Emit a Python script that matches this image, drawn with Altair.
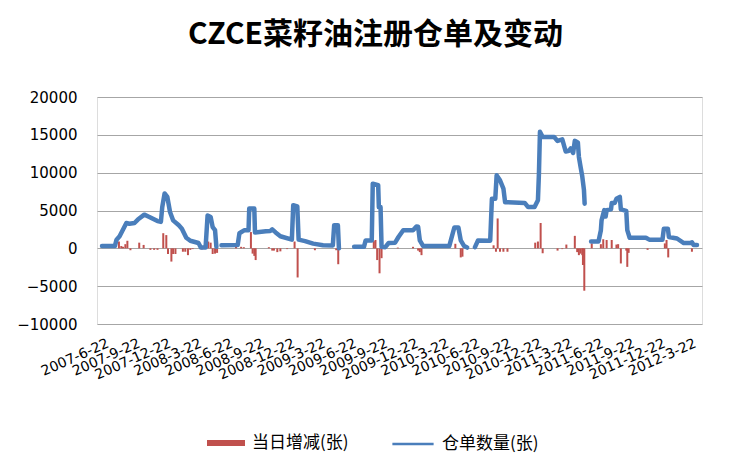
import altair as alt
import pandas as pd

title_text = "CZCE菜籽油注册仓单及变动"
bar_name = "当日增减(张)"
line_name = "仓单数量(张)"

line_dates = [
    "2007-06-13", "2007-07-21", "2007-07-26", "2007-08-04", "2007-08-24", "2007-09-02",
    "2007-09-17", "2007-09-27", "2007-10-16", "2007-10-31", "2007-11-24", "2007-12-04",
    "2007-12-08", "2007-12-15", "2007-12-23", "2007-12-31", "2008-01-09", "2008-01-26",
    "2008-02-04", "2008-02-17", "2008-02-29", "2008-03-24", "2008-03-31", "2008-04-14",
    "2008-04-20", "2008-04-29", "2008-05-05", "2008-05-12", "2008-05-16",
    "2008-05-31", "2008-07-13", "2008-07-18", "2008-07-23", "2008-08-07", "2008-08-19",
    "2008-08-21", "2008-09-05", "2008-09-07", "2008-10-09", "2008-10-22", "2008-10-28",
    "2008-11-07", "2008-11-21", "2008-12-25", "2008-12-29", "2009-01-10", "2009-01-14",
    "2009-02-02", "2009-02-26", "2009-03-27", "2009-04-25", "2009-04-29", "2009-05-10",
    "2009-05-13",
    "2009-06-27", "2009-07-26", "2009-07-31", "2009-08-18", "2009-08-21", "2009-09-06",
    "2009-09-08", "2009-09-13", "2009-09-16", "2009-09-27", "2009-10-07", "2009-10-26",
    "2009-11-05", "2009-11-19", "2009-12-18", "2009-12-28", "2010-01-02", "2010-01-07",
    "2010-01-17", "2010-04-04", "2010-04-19", "2010-05-01", "2010-05-08", "2010-05-18",
    "2010-05-27",
    "2010-06-19", "2010-06-28", "2010-08-03", "2010-08-08", "2010-08-18", "2010-08-22",
    "2010-09-01", "2010-09-11", "2010-09-16", "2010-11-13", "2010-11-23", "2010-12-12",
    "2010-12-22", "2010-12-25", "2010-12-28", "2011-01-05", "2011-02-08", "2011-02-18",
    "2011-03-04", "2011-03-14", "2011-03-24", "2011-03-29", "2011-04-05", "2011-04-10",
    "2011-04-19", "2011-04-22", "2011-04-27", "2011-05-02", "2011-05-07", "2011-05-09",
    "2011-05-28", "2011-06-19", "2011-06-26", "2011-06-28", "2011-07-06", "2011-07-10",
    "2011-07-13", "2011-07-26", "2011-07-28", "2011-08-06", "2011-08-11", "2011-08-21",
    "2011-08-24", "2011-09-09", "2011-09-12", "2011-09-19", "2011-11-06", "2011-11-16",
    "2011-12-25", "2011-12-29", "2012-01-10", "2012-01-13", "2012-02-06", "2012-02-26",
    "2012-03-16", "2012-03-21", "2012-03-26", "2012-04-05",
]
line_values = [
    300, 300, 1150, 1600, 3350, 3250,
    3350, 3800, 4450, 4150, 3600, 3500,
    5450, 7250, 6800, 4800, 3700, 3050,
    2600, 1400, 1000, 700, 100, 100,
    4350, 4150, 2800, 2400, 200,
    400, 450, 450, 2000, 2400, 2400,
    5250, 5250, 2100, 2250, 2300, 2500,
    2100, 1600, 1150, 5700, 5550, 1150,
    950, 620, 400, 380, 3050, 3050,
    0,
    200, 200, 1050, 1050, 8550, 8350,
    5450, 5450, 200, 150, 700, 750,
    1500, 2400, 2400, 2900, 2850, 1050,
    300, 300, 2750, 2750, 1050, 300,
    100,
    150, 1050, 1000, 6550, 6550, 9650,
    9000, 7900, 6100, 6000, 5450, 5450,
    6350, 9900, 15400, 14700, 14700, 14200,
    14400, 12800, 12900, 13200, 12600, 14200,
    14000, 12100, 10750, 9500, 7700, 5900,
    900, 900, 2400, 3700, 5050, 4200,
    5050, 5150, 6000, 6000, 6550, 6800,
    5150, 4950, 2400, 1400, 1400, 1150,
    1150, 2600, 2600, 1500, 1300, 700,
    700, 800, 450, 450,
]
line_segment = [1] * 29 + [2] * 25 + [3] * 25 + [4] * 30 + [5] * 28

bar_dates = [
    "2007-08-02", "2007-08-09", "2007-08-14", "2007-08-21", "2007-08-27", "2007-09-05",
    "2007-10-01", "2007-10-14", "2007-11-03", "2007-11-14", "2007-11-24", "2007-12-11",
    "2007-12-20", "2007-12-25", "2008-01-04", "2008-01-09", "2008-01-16", "2008-02-07",
    "2008-02-14", "2008-02-22", "2008-02-29", "2008-03-07", "2008-04-03", "2008-04-22",
    "2008-04-29", "2008-05-05", "2008-05-12", "2008-05-18", "2008-07-13", "2008-07-28",
    "2008-08-05", "2008-08-26", "2008-08-31", "2008-09-05", "2008-09-09", "2008-10-18",
    "2008-10-28", "2008-11-02", "2008-11-12", "2008-11-21", "2008-12-11", "2009-01-02",
    "2009-01-11", "2009-03-03", "2009-05-05", "2009-05-11", "2009-08-24", "2009-08-29",
    "2009-09-03", "2009-09-10", "2009-09-16", "2009-11-03", "2009-12-18", "2010-01-02",
    "2010-01-07", "2010-01-12", "2010-04-22", "2010-05-08", "2010-05-13", "2010-08-13",
    "2010-08-20", "2010-08-25", "2010-09-01", "2010-09-11", "2010-09-23", "2010-12-14",
    "2010-12-22", "2010-12-30", "2011-01-05", "2011-02-18", "2011-03-04", "2011-03-16",
    "2011-04-10", "2011-04-17", "2011-04-22", "2011-04-27", "2011-05-02", "2011-05-04",
    "2011-05-08", "2011-05-30", "2011-06-26", "2011-07-03", "2011-07-13", "2011-07-28",
    "2011-08-11", "2011-08-16", "2011-08-24", "2011-09-09", "2011-09-12", "2011-09-16",
    "2011-11-11", "2012-01-01", "2012-01-06", "2012-01-11", "2012-03-21",
]
bar_values = [
    900, 300, 200, 550, 1000, -250,
    750, 450, -200, -200, -200, 2000,
    1750, -750, -1750, -750, -750, -450,
    -450, -900, -200, -100, -150, 900,
    750, -750, -700, -600, 200, 200,
    150, 2150, -700, -1000, -1550, 150,
    -300, -300, -500, -400, -100, 900,
    -3850, -250, -250, -2100, 950, 1100,
    -1550, -3300, -1300, 100, 200, -300,
    -500, -900, 600, -1200, -1100, 400,
    -450, 3950, -450, -450, -450, 750,
    900, 3350, -650, -300, -100, 500,
    1650, -500, -900, -700, -900, -2200,
    -5600, 650, 550, 1200, 1100, 1100,
    500, 550, -2000, -300, -2450, -600,
    -200, 650, 1100, -1200, -450,
]

tick_dates = [
    "2007-06-22", "2007-09-22", "2007-12-22", "2008-03-22", "2008-06-22", "2008-09-22",
    "2008-12-22", "2009-03-22", "2009-06-22", "2009-09-22", "2009-12-22", "2010-03-22",
    "2010-06-22", "2010-09-22", "2010-12-22", "2011-03-22", "2011-06-22", "2011-09-22",
    "2011-12-22", "2012-03-22",
]
y_ticks = [-10000, -5000, 0, 5000, 10000, 15000, 20000]
x_domain = ["2007-06-13", "2012-04-05"]


def dt(s):
    y, m, d = (int(p) for p in s.split("-"))
    return alt.DateTime(year=y, month=m, date=d, utc=True)


line_df = pd.DataFrame({"date": line_dates, "value": line_values,
                        "seg": line_segment, "series": line_name})
bar_df = pd.DataFrame({"date": bar_dates, "value": bar_values, "series": bar_name})

x_scale = alt.Scale(type="utc", domain=[dt(d) for d in x_domain])
y_scale = alt.Scale(domain=[y_ticks[0], y_ticks[-1]], nice=False, zero=False)

x_axis = alt.Axis(values=[dt(d) for d in tick_dates],
                  labelExpr="utcFormat(datum.value, '%Y-%-m-%-d')",
                  labelAngle=-24, labelAlign="right", labelBaseline="top",
                  labelPadding=12, labelFontSize=14, labelFont="DejaVu Sans",
                  labelColor="#000000", labelOverlap=False, labelFlush=False,
                  labelBound=False, domain=False, ticks=False, grid=False)
y_axis = alt.Axis(values=y_ticks, title=None, domain=False, ticks=False,
                  grid=True, gridColor="#a6a6a6", gridWidth=1,
                  labelFont="DejaVu Sans", labelFontSize=15, labelColor="#000000",
                  labelPadding=20, format="d", labelOverlap=False, labelFlush=False,
                  labelBound=False)

bars = alt.Chart(bar_df).mark_bar(size=2).encode(
    x=alt.X("date:T", scale=x_scale, title=None, axis=x_axis),
    y=alt.Y("value:Q", scale=y_scale, axis=y_axis),
    y2=alt.datum(0),
    fill=alt.Fill("series:N",
                  scale=alt.Scale(domain=[bar_name], range=["#C0504D"]),
                  legend=alt.Legend(title=None, orient="none", legendX=110, legendY=327,
                                    symbolType="M-1,-0.16H1V0.16H-1Z", symbolSize=1444,
                                    symbolStrokeWidth=0, labelFontSize=17,
                                    labelFont="Noto Sans CJK SC", labelColor="#000000",
                                    labelOffset=7, padding=0)),
)

line = alt.Chart(line_df).mark_line(strokeWidth=4.5, strokeJoin="round", strokeCap="round").encode(
    x=alt.X("date:T", scale=x_scale, title=None, axis=x_axis),
    y=alt.Y("value:Q", scale=y_scale, axis=y_axis),
    detail="seg:N",
    stroke=alt.Stroke("series:N",
                      scale=alt.Scale(domain=[line_name], range=["#4A7EBB"]),
                      legend=alt.Legend(title=None, orient="none", legendX=294, legendY=325,
                                        symbolType="stroke", symbolSize=1700,
                                        symbolStrokeWidth=2.5, labelFontSize=17,
                                        labelFont="Noto Sans CJK SC", labelColor="#000000",
                                        labelOffset=7, padding=0)),
)

chart = alt.layer(bars, line).resolve_scale(fill="independent", stroke="independent").properties(
    width=605, height=227,
    autosize=alt.AutoSizeParams(type="none"),
    padding={"left": 89, "top": 89, "right": 22, "bottom": 129},
    title=alt.TitleParams(title_text, font="Noto Sans CJK SC", fontSize=30, fontWeight="bold",
                          color="#000000", anchor="middle", dx=-24, offset=40),
).configure_view(stroke=None).configure(background="#ffffff")

chart.save("out.html", embed_options={"renderer": "svg", "actions": False})
